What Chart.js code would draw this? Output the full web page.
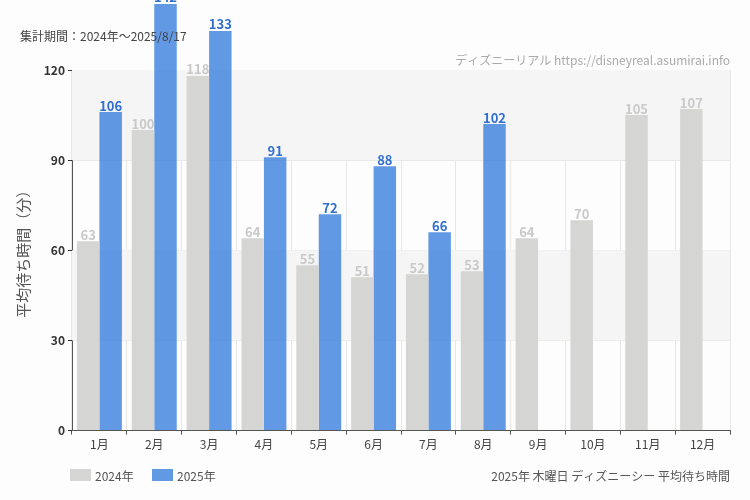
<!DOCTYPE html>
<html>
<head>
<meta charset="utf-8">
<script src="https://cdn.jsdelivr.net/npm/chart.js@4"></script>
<style>
body { margin: 0; background: #fcfdfc; }
#wrap { width: 750px; height: 500px; }
</style>
</head>
<body>
<div id="wrap"><canvas id="myChart" width="750" height="500"></canvas></div>
<script>
const months = ['1月', '2月', '3月', '4月', '5月', '6月', '7月', '8月', '9月', '10月', '11月', '12月'];
const wait2024 = [63, 100, 118, 64, 55, 51, 52, 53, 64, 70, 105, 107];
const wait2025 = [106, 142, 133, 91, 72, 88, 66, 102, null, null, null, null];
const yTicks = [0, 30, 60, 90, 120];

const FONT = '"Liberation Sans Narrow", "Noto Sans CJK JP", sans-serif';

// shaded bands + texts + value labels
const extras = {
    id: 'extras',
    beforeDatasetsDraw(chart) {
        const { ctx, chartArea: a, scales: { y } } = chart;
        ctx.save();
        ctx.fillStyle = '#f4f5f4';
        [[90, 120], [30, 60]].forEach(([lo, hi]) => {
            ctx.fillRect(a.left, y.getPixelForValue(hi), a.right - a.left, y.getPixelForValue(lo) - y.getPixelForValue(hi));
        });
        ctx.restore();
    },
    afterDatasetsDraw(chart) {
        const { ctx } = chart;
        ctx.save();
        ctx.font = 'bold 13px ' + FONT;
        ctx.textAlign = 'center';
        ctx.textBaseline = 'bottom';
        chart.data.datasets.forEach((ds, i) => {
            ctx.fillStyle = i === 0 ? '#c8c9c8' : '#2f6fd0';
            chart.getDatasetMeta(i).data.forEach((bar, j) => {
                if (ds.data[j] == null) return;
                ctx.fillText(ds.data[j], bar.x, bar.y);
            });
        });
        ctx.font = '12px ' + FONT;
        ctx.fillStyle = '#444';
        ctx.textAlign = 'left';
        ctx.fillText('集計期間：2024年～2025/8/17', 20, 42);
        ctx.fillStyle = '#aaa';
        ctx.textAlign = 'right';
        ctx.fillText('ディズニーリアル https://disneyreal.asumirai.info', 730, 66);
        ctx.fillStyle = '#555';
        ctx.fillText('2025年 木曜日 ディズニーシー 平均待ち時間', 730, 482);
        ctx.textAlign = 'left';
        ctx.fillText('2024年', 95, 482);
        ctx.fillText('2025年', 177, 482);
        ctx.fillStyle = '#d5d6d4';
        ctx.fillRect(70, 469, 21, 12);
        ctx.fillStyle = '#6199e2';
        ctx.fillRect(152, 469, 21, 12);
        ctx.restore();
    }
};

const ctx = document.getElementById('myChart').getContext('2d');
const myChart = new Chart(ctx, {
    type: 'bar',
    data: {
        labels: months,
        datasets: [
            { label: '2024年', data: wait2024, backgroundColor: '#d5d6d4', clip: false },
            { label: '2025年', data: wait2025, backgroundColor: 'rgba(64,130,222,0.82)', clip: false }
        ]
    },
    options: {
        responsive: false,
        animation: false,
        layout: { padding: { top: 70, right: 20, bottom: 45, left: 10 } },
        categoryPercentage: 0.82,
        barPercentage: 1.0,
        plugins: { legend: { display: false }, tooltip: { enabled: false } },
        scales: {
            x: {
                grid: { color: '#e6e7e6', offset: true, drawTicks: true, tickColor: '#555', tickLength: 4 },
                border: { color: '#555' },
                ticks: { color: '#444', font: { family: FONT, size: 12 } }
            },
            y: {
                min: 0, max: 120,
                afterBuildTicks: (s) => { s.ticks = yTicks.map(v => ({ value: v })); },
                afterFit: (s) => { s.width = 62; },
                grid: { color: '#e6e7e6', tickColor: '#333', tickLength: 4 },
                border: { color: '#555' },
                ticks: { color: '#333', font: { family: FONT, size: 12, weight: 'bold' } },
                title: { display: true, text: '平均待ち時間（分）', color: '#555', font: { family: FONT, size: 15 } }
            }
        }
    },
    plugins: [extras]
});
</script>
</body>
</html>
